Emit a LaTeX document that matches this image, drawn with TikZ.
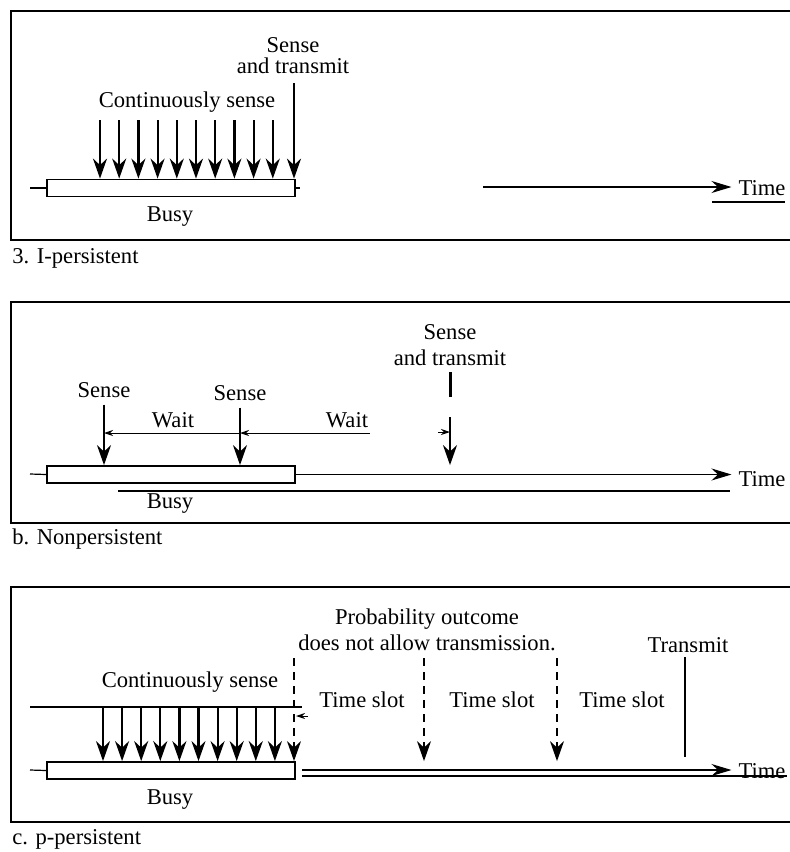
\documentclass[tikz,border=0pt]{standalone}
\usepackage{fontspec}
\setmainfont{Liberation Serif}
\usepackage{tikz}
\usetikzlibrary{arrows.meta, positioning}
\tikzstyle{frameline} = [line width=1pt]
\tikzstyle{busybox} = [draw, line width=0.9pt, minimum width=124pt, minimum height=8.5pt, inner sep=0pt, anchor=west]
\tikzstyle{sensearrow} = [line width=1.1pt, -{Stealth[length=10pt, width=7pt]}]
\tikzstyle{timearrow} = [line width=0.6pt, -{Stealth[length=10pt, width=6pt]}]
\tikzstyle{dimarrow} = [line width=0.5pt, -{Stealth[length=4.5pt, width=3pt]}]
\tikzstyle{slotline} = [line width=0.8pt, dash pattern=on 4pt off 3pt, -{Stealth[length=10pt, width=7pt]}]
\tikzstyle{thinline} = [line width=0.6pt]
\tikzstyle{caption} = [anchor=west, inner sep=0pt]

\begin{document}
\begin{tikzpicture}[x=0.5pt, y=-0.5pt, font=\fontsize{11.3}{13}\selectfont]
		\useasboundingbox (0,0) rectangle (790,852);

		% a. 1-persistent
		\draw[frameline] (790,11) -- (11,11) -- (11,240) -- (790,240);
		\node[busybox] (busyA) at (46,188) {};
		\draw[thinline] (30,188) -- (busyA.west);
		\draw[thinline] (busyA.east) -- (300,188);
		\foreach \i in {0,...,9} {
			\coordinate (cA\i) at ({100+19.2*\i},120);
			\draw[sensearrow] (cA\i) -- (cA\i |- busyA.north);
		}
		\node (contA) at (187,102) {Continuously sense};
		\node[align=center] (stxA) at (293,56) {Sense\\[-2.5pt]and transmit};
		\coordinate (sA) at (294,83);
		\draw[sensearrow] (sA) -- (sA |- busyA.north);
		\node (busyAl) at (170,217) {Busy};
		\coordinate (tA) at (483,187);
		\node (timeA) at (762,188) {Time};
		\draw[timearrow] (tA) -- (tA -| timeA.west);
		\draw[thinline] (712,202) -- (785,202);
		\node[caption] (capA) at (12,258) {3. I-persistent};

		% b. nonpersistent
		\draw[frameline] (790,302) -- (11,302) -- (11,523) -- (790,523);
		\node[busybox] (busyB) at (46,474.5) {};
		\draw[thinline] (30,474) -- (busyB.west);
		\node (timeB) at (762,479) {Time};
		\draw[timearrow] (busyB.east) -- (busyB.east -| timeB.west);
		\draw[thinline] (118,491) -- (730,491);
		\node (busyBl) at (170,504) {Busy};
		\node (senseB1) at (104,390) {Sense};
		\node (senseB2) at (240,393) {Sense};
		\draw[sensearrow] (senseB1.south) -- (senseB1.south |- busyB.north);
		\draw[sensearrow] (senseB2.south) -- (senseB2.south |- busyB.north);
		\coordinate (wB) at (370,433);
		\draw[dimarrow, {Stealth[length=4.5pt, width=3pt]}-] (senseB1.south |- wB) -- (senseB2.south |- wB);
		\draw[dimarrow] (wB) -- (senseB2.south |- wB);
		\node (waitB1) at (173,420) {Wait};
		\node (waitB2) at (347,420) {Wait};
		\node[align=center] (stxB) at (450,345) {Sense\\and transmit};
		\coordinate (gB) at (450,397);
		\coordinate (hB) at (450,417);
		\draw[line width=1.5pt] (450,372) -- (gB);
		\draw[sensearrow] (hB) -- (hB |- busyB.north);
		\draw[dimarrow] (438,432) -- (hB |- 0,432);
		\node[caption] (capB) at (12,539) {b. Nonpersistent};

		% c. p-persistent
		\draw[frameline] (790,587) -- (11,587) -- (11,822) -- (790,822);
		\node[busybox] (busyC) at (46,770.5) {};
		\draw[thinline] (30,770) -- (busyC.west);
		\draw[thinline] (30,707) -- (302,707);
		\foreach \i in {0,...,9} {
			\coordinate (cC\i) at ({103+19.1*\i},707);
			\draw[sensearrow] (cC\i) -- (cC\i |- busyC.north);
		}
		\node (contC) at (190,682) {Continuously sense};
		\node (timeC) at (762,771) {Time};
		\coordinate (tC) at (302,770);
		\draw[timearrow] (tC) -- (tC -| timeC.west);
		\draw[thinline] (302,776) -- (787,776);
		\node (busyCl) at (170,800) {Busy};
		\node[align=center] (probC) at (427,630) {Probability outcome\\does not allow transmission.};
		\foreach \x [count=\j] in {294,424,557} {
			\coordinate (dC\j) at (\x,658);
			\draw[slotline] (dC\j) -- (dC\j |- busyC.north);
		}
		\draw[dimarrow] (308,716) -- (296,716);
		\node (slotC1) at (362,700) {Time slot};
		\node (slotC2) at (492,700) {Time slot};
		\node (slotC3) at (622,700) {Time slot};
		\node (transC) at (688,645) {Transmit};
		\draw[line width=1.2pt] (685,657) -- (685,757);
		\node[caption] (capC) at (12,839) {c. p-persistent};
	\end{tikzpicture}
\end{document}
